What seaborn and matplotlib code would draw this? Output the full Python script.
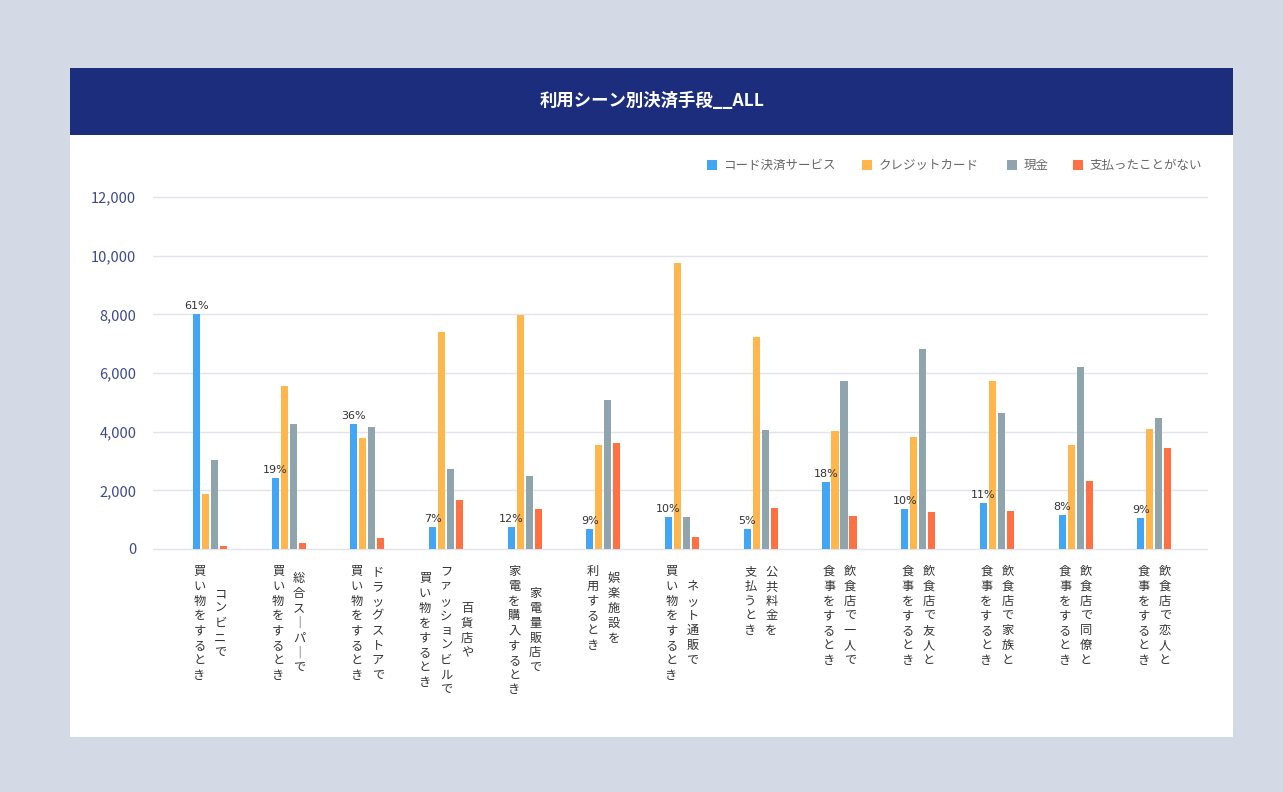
import matplotlib
matplotlib.use("Agg")
import matplotlib.pyplot as plt
from matplotlib.patches import Rectangle
import seaborn as sns
import pandas as pd

# ---- data -------------------------------------------------------------
scenes = [
    "コンビニで\n買い物をするとき",
    "総合スーパーで\n買い物をするとき",
    "ドラッグストアで\n買い物をするとき",
    "百貨店や\nファッションビルで\n買い物をするとき",
    "家電量販店で\n家電を購入するとき",
    "娯楽施設を\n利用するとき",
    "ネット通販で\n買い物をするとき",
    "公共料金を\n支払うとき",
    "飲食店で一人で\n食事をするとき",
    "飲食店で友人と\n食事をするとき",
    "飲食店で家族と\n食事をするとき",
    "飲食店で同僚と\n食事をするとき",
    "飲食店で恋人と\n食事をするとき",
]
methods = ["コード決済サービス", "クレジットカード", "現金", "支払ったことがない"]

code_pay = [8000, 2430, 4270, 760, 760, 690, 1080, 690, 2290, 1380, 1570, 1170, 1060]
credit = [1870, 5570, 3790, 7400, 7990, 3560, 9740, 7240, 4010, 3830, 5730, 3540, 4080]
cash = [3030, 4250, 4150, 2730, 2500, 5090, 1080, 4040, 5730, 6820, 4640, 6200, 4480]
never = [90, 210, 360, 1680, 1380, 3600, 400, 1410, 1130, 1260, 1310, 2330, 3430]
code_share = ["61%", "19%", "36%", "7%", "12%", "9%", "10%", "5%", "18%", "10%", "11%", "8%", "9%"]

colors = ["#42A5F5", "#FFB74D", "#90A4AE", "#FF7043"]
title = "利用シーン別決済手段__ALL"

# ---- long table for seaborn --------------------------------------------
rows = []
for series, name in zip([code_pay, credit, cash, never], methods):
    for scene, v in zip(scenes, series):
        rows.append({"scene": scene, "method": name, "count": v})
df = pd.DataFrame(rows)

sns.set_theme(style="white")
plt.rcParams["font.family"] = ["Noto Sans CJK JP", "DejaVu Sans"]

W, H = 1283, 792
fig = plt.figure(figsize=(W / 100, H / 100), dpi=100, facecolor="#d3d9e5")


def px_rect(x0, y0, x1, y1, **kw):
    """Rectangle given in pixel coordinates measured from the top-left."""
    fig.add_artist(Rectangle((x0 / W, 1 - y1 / H), (x1 - x0) / W, (y1 - y0) / H,
                             transform=fig.transFigure, **kw))


# card and header band
px_rect(70, 68, 1233, 737, facecolor="white", edgecolor="none", zorder=0)
px_rect(70, 68, 1233, 135, facecolor="#1b2d7c", edgecolor="none", zorder=1)
fig.text(652 / W, 1 - 101 / H, title, color="white", fontsize=12.5, fontweight="bold",
         ha="center", va="center", zorder=2)

# plotting area
ax_l, ax_r, ax_t, ax_b = 153, 1207, 197, 549
ax = fig.add_axes([ax_l / W, 1 - ax_b / H, (ax_r - ax_l) / W, (ax_b - ax_t) / H])
ax.set_facecolor("none")
ax.set_zorder(3)

bar_w = 0.4575
sns.barplot(data=df, x="scene", y="count", hue="method", order=scenes,
            hue_order=methods, palette=colors, saturation=1, width=bar_w, gap=0.22,
            linewidth=0, legend=False, ax=ax, zorder=3)

ax.set_ylim(0, 12000)
ax.set_xlim(-0.724, 12.67)
ax.set_yticks(range(0, 12001, 2000))
ax.set_yticklabels([f"{v:,}" for v in range(0, 12001, 2000)],
                   color="#3d4a8a", fontsize=10.5)
ax.tick_params(axis="y", length=0, pad=12)
ax.set_xticks(range(len(scenes)))
ax.set_xticklabels([])
ax.tick_params(axis="x", length=0)
ax.set_xlabel("")
ax.set_ylabel("")
for s in ax.spines.values():
    s.set_visible(False)
for v in range(0, 12001, 2000):
    ax.axhline(v, color="#e1e3ee", linewidth=1, zorder=1, clip_on=False)

# share labels above the code-payment bars
slot = bar_w / 4
for i, (v, lab) in enumerate(zip(code_pay, code_share)):
    ax.annotate(lab, xy=(i - 1.5 * slot, v), xytext=(0, 3), textcoords="offset pixels",
                ha="center", va="bottom", fontsize=8, color="#333333",
                family=["DejaVu Sans"])

# vertical category labels (first line on the right, columns read right to left)
pitch = 14.8
col_gap = 21
top_off = 16
for i, scene in enumerate(scenes):
    lines = [ln.replace("ー", "｜") for ln in scene.split("\n")]
    n = len(lines)
    longest = max(len(ln) for ln in lines)
    for j, ln in enumerate(lines):
        dx = (n - 1) / 2 * col_gap - j * col_gap
        start = top_off + (longest - len(ln)) / 2 * pitch
        for k, ch in enumerate(ln):
            ax.annotate(ch, xy=(i, 0), xycoords=("data", "axes fraction"),
                        xytext=(dx, -(start + k * pitch)), textcoords="offset pixels",
                        ha="center", va="top", fontsize=8.8, color="#333333",
                        annotation_clip=False)

# legend
leg_items = [(707, 723), (862, 879), (1007, 1024), (1073, 1090)]
for (sx, tx), name, c in zip(leg_items, methods, colors):
    px_rect(sx, 160, sx + 10, 170, facecolor=c, edgecolor="none", zorder=2)
    fig.text(tx / W, 1 - 165 / H, name, color="#666666", fontsize=9,
             ha="left", va="center", zorder=2)

fig.savefig("out.png", dpi=100, facecolor=fig.get_facecolor())
